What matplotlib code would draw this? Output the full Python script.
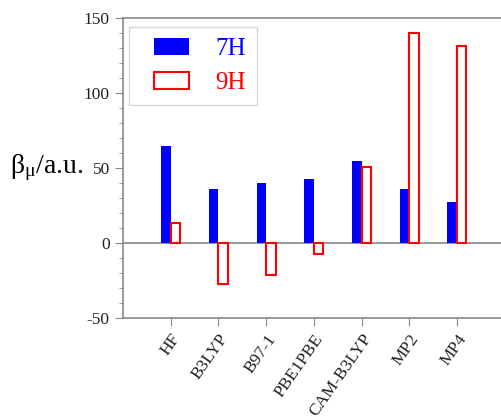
import numpy as np
from matplotlib import pyplot as plt
from matplotlib.ticker import MultipleLocator
from matplotlib.patches import Rectangle
from matplotlib.legend_handler import HandlerPatch

methods = ['HF', 'B3LYP', 'B97-1', 'PBE1PBE', 'CAM-B3LYP', 'MP2', 'MP4']
beta_7h = [65, 36, 40, 42.5, 55, 36, 27.5]
beta_9h = [13.5, -27.5, -21.5, -7.5, 50.5, 140, 131.5]

plt.rcParams['font.family'] = ['Liberation Serif', 'DejaVu Serif']
plt.rcParams['axes.unicode_minus'] = False


def right_patch(legend, orig_handle, xdescent, ydescent, width, height, fontsize):
    # patch sits at the right of a wider handle box -> more left padding
    pw = 1.4 * fontsize
    return Rectangle((-xdescent + width - pw, -ydescent), pw, height)


fig = plt.figure(figsize=(5.01, 4.17), dpi=100)
ax = fig.add_axes([0.2455, 0.2374, 0.757, 0.7194])

x = np.arange(len(methods))
w = 0.2
b7 = ax.bar(x, beta_7h, width=-w, align='edge', color='#0000ff')
b9 = ax.bar(x, beta_9h, width=w, align='edge', facecolor='white',
            edgecolor='#ff0000', linewidth=1.5)

ax.axhline(0, color='#888888', linewidth=1.2, zorder=0)

ax.set_xlim(-1, 6.95)
ax.set_ylim(-50, 150)
ax.set_yticks([-50, 0, 50, 100, 150])
ax.yaxis.set_minor_locator(MultipleLocator(10))
ax.set_xticks(x)
ax.set_xticklabels(methods, rotation=55, ha='right', rotation_mode='anchor')

ax.spines['right'].set_visible(False)
for s in ['left', 'top', 'bottom']:
    ax.spines[s].set_color('#888888')
    ax.spines[s].set_linewidth(1.2)

ax.tick_params(axis='both', which='major', direction='out', length=6,
               color='#888888', labelsize=12.5, labelcolor='#222222')
ax.tick_params(axis='y', which='minor', direction='out', length=3,
               color='#888888')

fig.text(0.02, 0.597, r'$\mathregular{β_{μ}}$/a.u.', fontsize=20,
         va='center', ha='left')

hp = HandlerPatch(patch_func=right_patch)
h7, h9 = b7.patches[0], b9.patches[0]
leg = ax.legend([h7, h9], ['7H', '9H'],
                loc='upper left', bbox_to_anchor=(0.016, 0.97),
                fontsize=18, frameon=True, fancybox=False,
                handlelength=1.95, handleheight=0.66, borderpad=0.45,
                labelspacing=0.45, handletextpad=1.05, borderaxespad=0,
                handler_map={h7: hp, h9: hp})
leg.get_frame().set_edgecolor('#cccccc')
leg.get_frame().set_linewidth(1.0)
leg.get_texts()[0].set_color('#0000ff')
leg.get_texts()[1].set_color('#ff0000')

fig.savefig('out.png', dpi=100)
